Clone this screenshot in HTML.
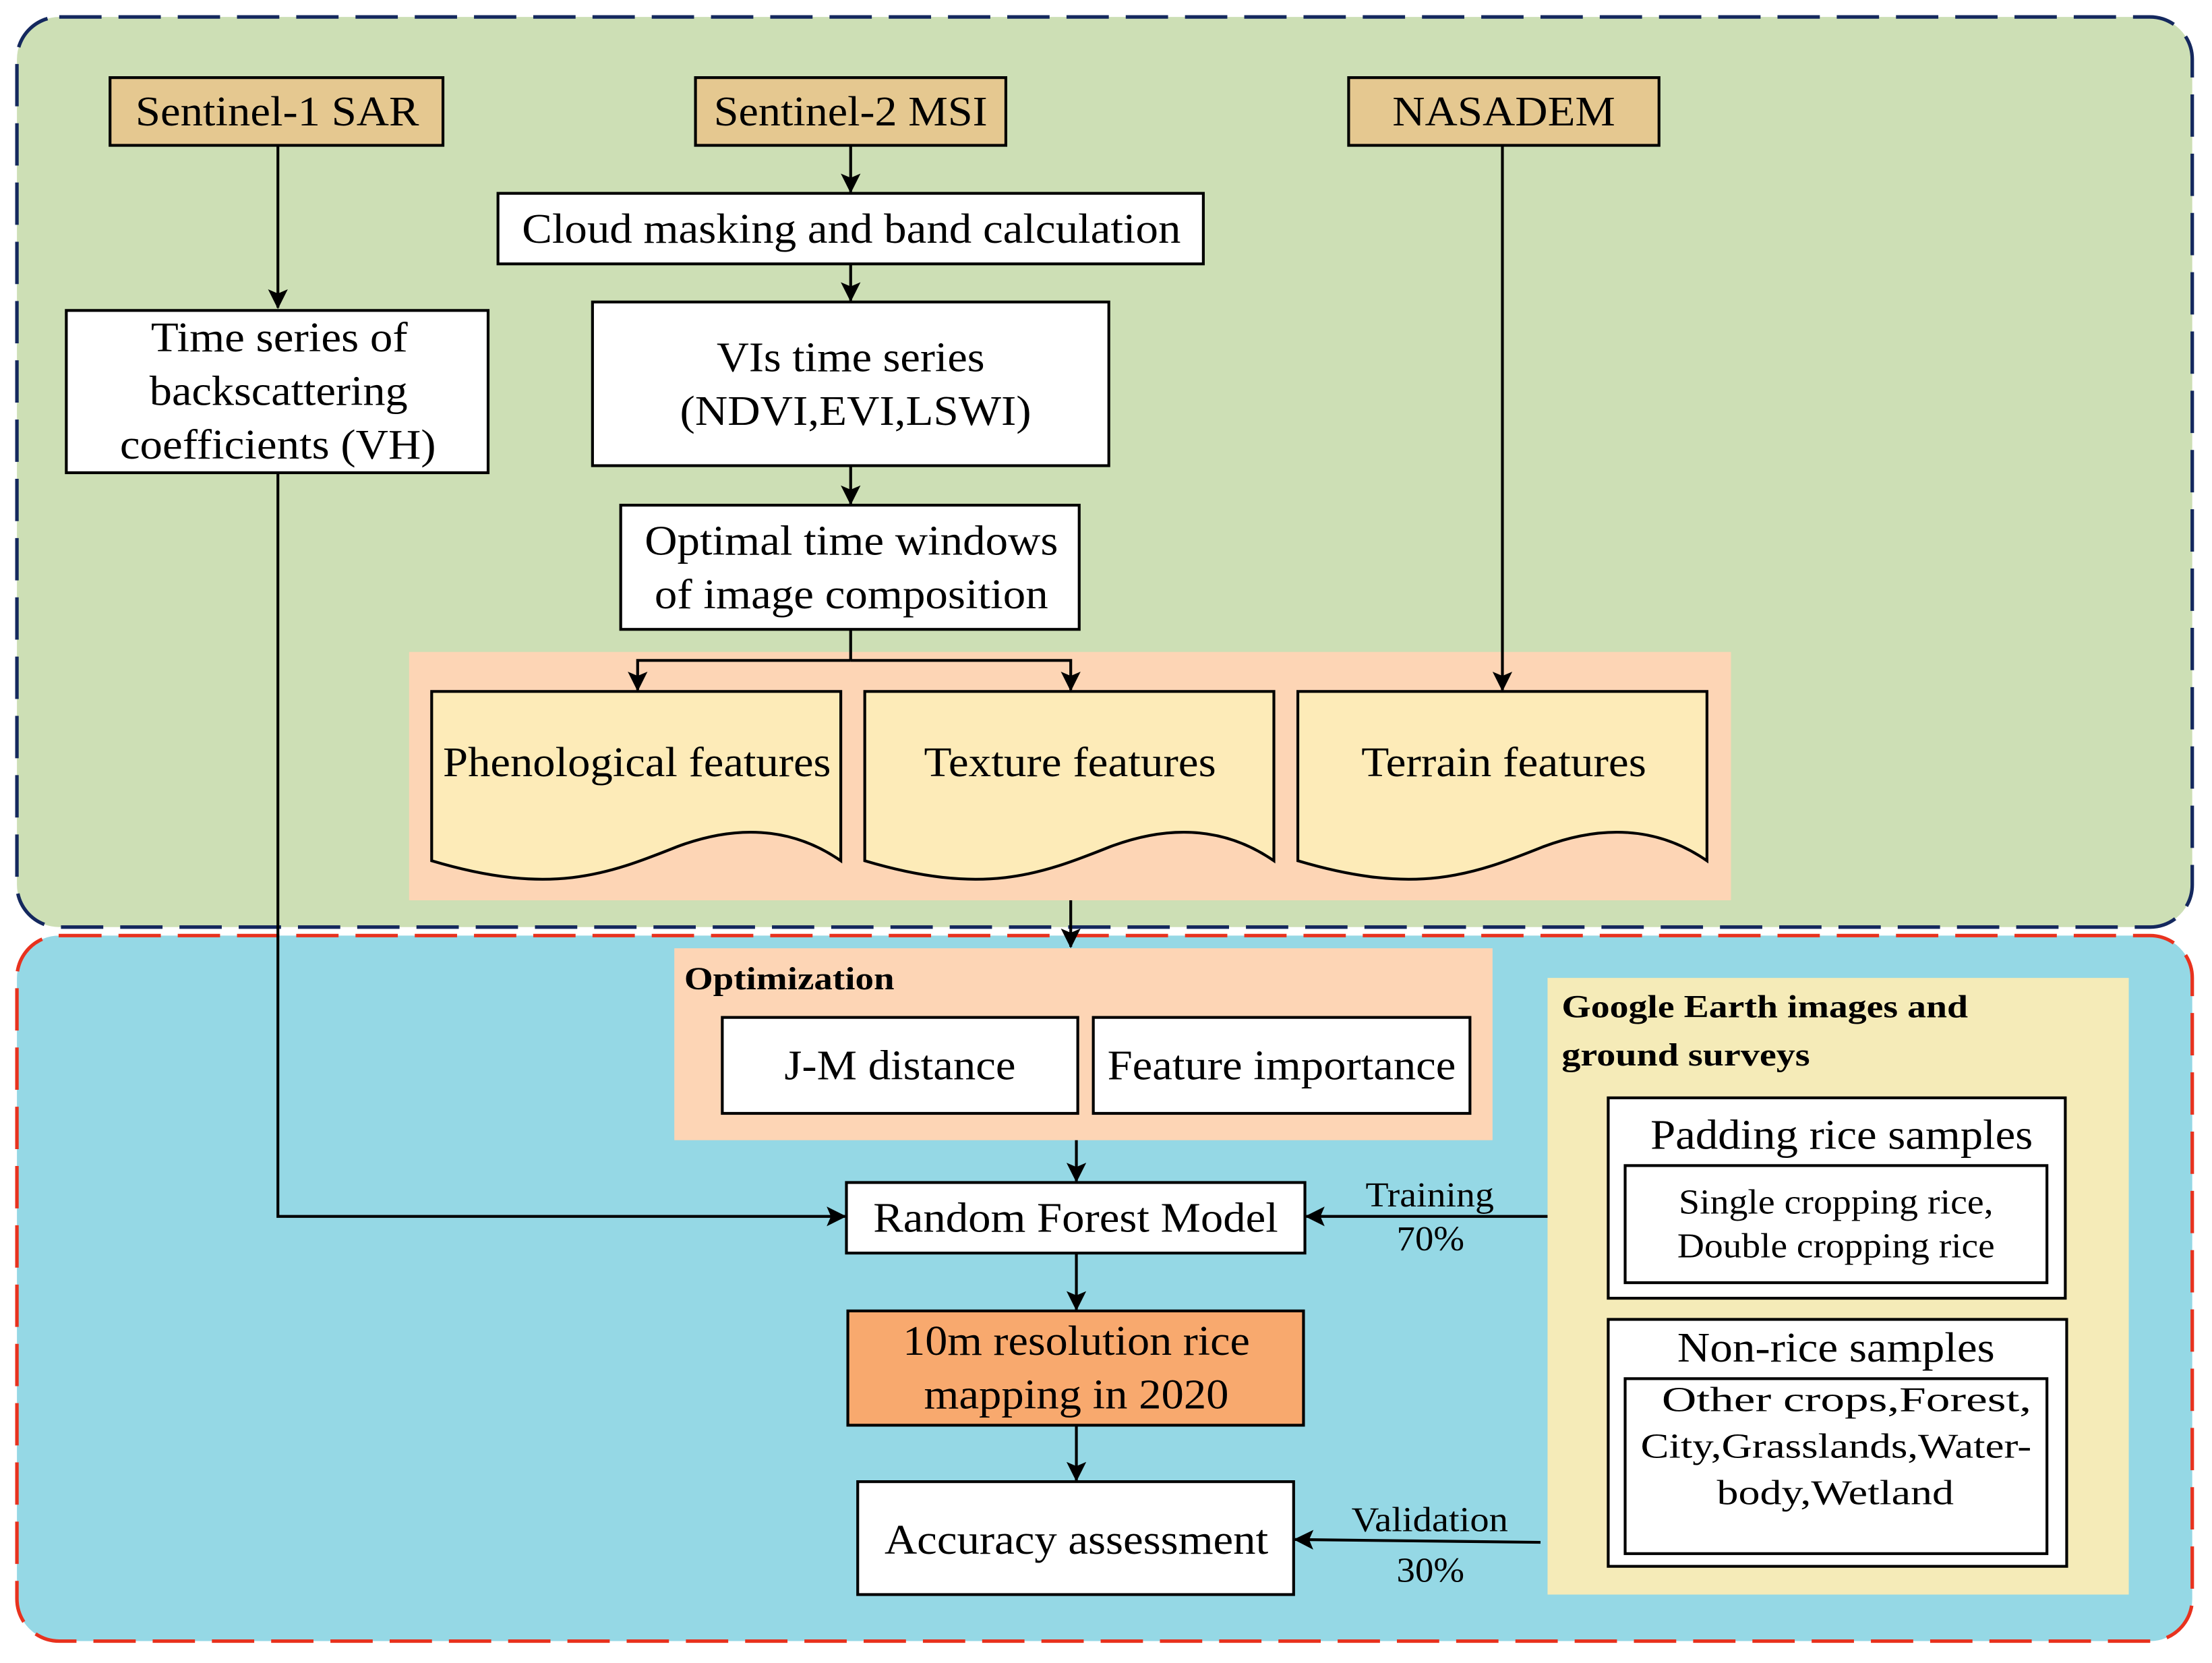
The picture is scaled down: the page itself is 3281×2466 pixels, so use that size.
<!DOCTYPE html>
<html><head><meta charset="utf-8"><style>html,body{margin:0;padding:0;background:#fff}svg{display:block}</style></head>
<body>
<svg width="3281" height="2466" viewBox="0 0 1568 1178.5" xmlns="http://www.w3.org/2000/svg" font-family="'Liberation Serif', serif">
<defs>
<marker id="a" markerWidth="14" markerHeight="14" refX="13" refY="7" orient="auto" markerUnits="userSpaceOnUse">
<path d="M0,0 L14,7 L0,14 L3,7 Z" fill="#000"/></marker>
</defs>
<rect x="0" y="0" width="1568" height="1179" fill="#fff"/>
<rect x="12" y="12" width="1542" height="645" rx="30" fill="#cddfb5" stroke="#14285e" stroke-width="2.5" stroke-dasharray="30,12"/>
<rect x="12" y="663" width="1542" height="500" rx="30" fill="#95d8e5" stroke="#e8321e" stroke-width="2.5" stroke-dasharray="30,12"/>

<g stroke="#000" stroke-width="2">
<rect x="78" y="55" width="236" height="48" fill="#e5c890"/>
<rect x="493" y="55" width="220" height="48" fill="#e5c890"/>
<rect x="956" y="55" width="220" height="48" fill="#e5c890"/>
<rect x="353" y="137" width="500" height="50" fill="#fff"/>
<rect x="420" y="214" width="366" height="116" fill="#fff"/>
<rect x="440" y="358" width="325" height="88" fill="#fff"/>
<rect x="47" y="220" width="299" height="115" fill="#fff"/>
</g>
<rect x="290" y="462" width="937" height="176" fill="#fdd5b5"/>
<g stroke="#000" stroke-width="2" fill="#fdebb8">
<path d="M306,490 H596 V610 C560,585 520,585 480,600 C430,620 390,635 306,610 Z"/>
<path d="M613,490 H903 V610 C867,585 827,585 787,600 C737,620 697,635 613,610 Z"/>
<path d="M920,490 H1210 V610 C1174,585 1134,585 1094,600 C1044,620 1004,635 920,610 Z"/>
</g>
<rect x="478" y="672" width="580" height="136" fill="#fdd5b5"/>
<rect x="1097" y="693" width="412" height="437" fill="#f5ebb8"/>
<g stroke="#000" stroke-width="2" fill="#fff">
<rect x="512" y="721" width="252" height="68"/>
<rect x="775" y="721" width="267" height="68"/>
<rect x="600" y="838" width="325" height="50"/>
<rect x="601" y="929" width="323" height="81" fill="#f8a96e"/>
<rect x="608" y="1050" width="309" height="80"/>
<rect x="1140" y="778" width="324" height="142"/>
<rect x="1152" y="826" width="299" height="83"/>
<rect x="1140" y="935" width="325" height="175"/>
<rect x="1152" y="977" width="299" height="124"/>
</g>

<g stroke="#000" stroke-width="2" fill="none" marker-end="url(#a)">
<path d="M197,103 V218"/>
<path d="M603,103 V136"/>
<path d="M603,187 V213"/>
<path d="M603,330 V357"/>
<path d="M603,468 H452 V489"/>
<path d="M603,468 H759 V489"/>
<path d="M1065,103 V489"/>
<path d="M197,335 V862 H599"/>
<path d="M759,638 V671"/>
<path d="M763,808 V837"/>
<path d="M763,888 V928"/>
<path d="M763,1010 V1049"/>
<path d="M1097,862 H926"/>
<path d="M1092,1093 L918,1091"/>
</g>
<path d="M603,446 V468" stroke="#000" stroke-width="2"/>

<g font-size="30" fill="#000" lengthAdjust="spacingAndGlyphs">
<text x="96" y="89" textLength="201" lengthAdjust="spacingAndGlyphs">Sentinel-1 SAR</text>
<text x="506" y="89" textLength="194" lengthAdjust="spacingAndGlyphs">Sentinel-2 MSI</text>
<text x="987" y="89" textLength="158" lengthAdjust="spacingAndGlyphs">NASADEM</text>
<text x="370" y="172" textLength="467" lengthAdjust="spacingAndGlyphs">Cloud masking and band calculation</text>
<text x="508" y="263" textLength="190" lengthAdjust="spacingAndGlyphs">VIs time series</text>
<text x="482" y="301" textLength="249" lengthAdjust="spacingAndGlyphs">(NDVI,EVI,LSWI)</text>
<text x="457" y="393" textLength="293" lengthAdjust="spacingAndGlyphs">Optimal time windows</text>
<text x="464" y="431" textLength="279" lengthAdjust="spacingAndGlyphs">of image composition</text>
<text x="107" y="249" textLength="182" lengthAdjust="spacingAndGlyphs">Time series of</text>
<text x="106" y="287" textLength="183" lengthAdjust="spacingAndGlyphs">backscattering</text>
<text x="85" y="325" textLength="224" lengthAdjust="spacingAndGlyphs">coefficients (VH)</text>
<text x="314" y="550" textLength="275" lengthAdjust="spacingAndGlyphs">Phenological features</text>
<text x="655" y="550" textLength="207" lengthAdjust="spacingAndGlyphs">Texture features</text>
<text x="965" y="550" textLength="202" lengthAdjust="spacingAndGlyphs">Terrain features</text>
<text x="556" y="765" textLength="164" lengthAdjust="spacingAndGlyphs">J-M distance</text>
<text x="785" y="765" textLength="247" lengthAdjust="spacingAndGlyphs">Feature importance</text>
<text x="619" y="873" textLength="287" lengthAdjust="spacingAndGlyphs">Random Forest Model</text>
<text x="640" y="960" textLength="246" lengthAdjust="spacingAndGlyphs">10m resolution rice</text>
<text x="655" y="998" textLength="216" lengthAdjust="spacingAndGlyphs">mapping in 2020</text>
<text x="627" y="1101" textLength="272" lengthAdjust="spacingAndGlyphs">Accuracy assessment</text>
<text x="1170" y="814" textLength="271" lengthAdjust="spacingAndGlyphs">Padding rice samples</text>
<text x="1189" y="965" textLength="225" lengthAdjust="spacingAndGlyphs">Non-rice samples</text>
</g>
<g font-size="25" fill="#000">
<text x="968" y="855" textLength="91" lengthAdjust="spacingAndGlyphs">Training</text>
<text x="990" y="886" textLength="48" lengthAdjust="spacingAndGlyphs">70%</text>
<text x="958" y="1085" textLength="111" lengthAdjust="spacingAndGlyphs">Validation</text>
<text x="990" y="1121" textLength="48" lengthAdjust="spacingAndGlyphs">30%</text>
<text x="1190" y="860" textLength="223" lengthAdjust="spacingAndGlyphs">Single cropping rice,</text>
<text x="1189" y="891" textLength="225" lengthAdjust="spacingAndGlyphs">Double cropping rice</text>
<text x="1178" y="1000" textLength="262" lengthAdjust="spacingAndGlyphs">Other crops,Forest,</text>
<text x="1163" y="1033" textLength="277" lengthAdjust="spacingAndGlyphs">City,Grasslands,Water-</text>
<text x="1217" y="1066" textLength="168" lengthAdjust="spacingAndGlyphs">body,Wetland</text>
</g>
<g font-size="23" font-weight="bold" fill="#000">
<text x="485" y="701" textLength="149" lengthAdjust="spacingAndGlyphs">Optimization</text>
<text x="1107" y="721" textLength="288" lengthAdjust="spacingAndGlyphs">Google Earth images and</text>
<text x="1107" y="755" textLength="176" lengthAdjust="spacingAndGlyphs">ground surveys</text>
</g>
</svg>
</body></html>
